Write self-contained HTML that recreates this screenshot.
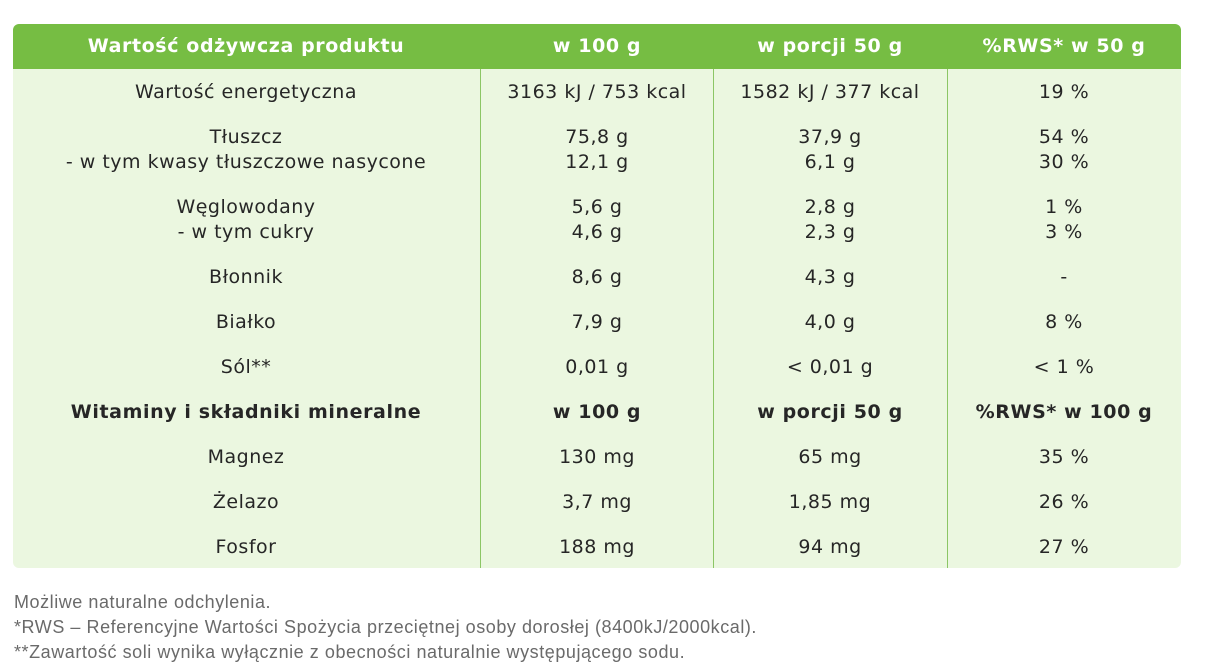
<!DOCTYPE html>
<html><head><meta charset="utf-8"><style>
body{margin:0;width:1206px;height:672px;background:#fff;position:relative;overflow:hidden;font-family:"DejaVu Sans",Verdana,sans-serif;}
.hdr{position:absolute;left:13px;top:24px;width:1168px;height:45px;background:#76bd43;border-radius:6px 6px 0 0;}
.body{position:absolute;left:13px;top:69px;width:1168px;height:499px;background:#ebf7e0;border-radius:0 0 6px 6px;}
.vl{position:absolute;top:69px;height:499px;width:1px;background:#8cc665;}
.t{position:absolute;transform:translateX(-50%);white-space:nowrap;font-size:19px;letter-spacing:0.5px;color:#262626;line-height:25px;text-align:center;}
.h{color:#fff;font-weight:bold;letter-spacing:0.6px;}
.b{font-weight:bold;letter-spacing:0.6px;}
.foot{position:absolute;left:14px;font-family:"Liberation Sans",sans-serif;font-size:18px;letter-spacing:0.55px;color:#6a6a6a;}
</style></head><body>
<div class="hdr"></div><div class="body"></div>
<div class="vl" style="left:480px"></div><div class="vl" style="left:713px"></div><div class="vl" style="left:947px"></div>
<div class="t h" style="left:246px;top:34px">Wartość odżywcza produktu</div>
<div class="t h" style="left:597px;top:34px">w 100 g</div>
<div class="t h" style="left:830px;top:34px">w porcji 50 g</div>
<div class="t h" style="left:1064px;top:34px">%RWS* w 50 g</div>

<div class="t" style="left:246px;top:80px">Wartość energetyczna</div>
<div class="t" style="left:597px;top:80px">3163 kJ / 753 kcal</div>
<div class="t" style="left:830px;top:80px">1582 kJ / 377 kcal</div>
<div class="t" style="left:1064px;top:80px">19 %</div>

<div class="t" style="left:246px;top:125px">Tłuszcz<br>- w tym kwasy tłuszczowe nasycone</div>
<div class="t" style="left:597px;top:125px">75,8 g<br>12,1 g</div>
<div class="t" style="left:830px;top:125px">37,9 g<br>6,1 g</div>
<div class="t" style="left:1064px;top:125px">54 %<br>30 %</div>

<div class="t" style="left:246px;top:195px">Węglowodany<br>- w tym cukry</div>
<div class="t" style="left:597px;top:195px">5,6 g<br>4,6 g</div>
<div class="t" style="left:830px;top:195px">2,8 g<br>2,3 g</div>
<div class="t" style="left:1064px;top:195px">1 %<br>3 %</div>

<div class="t" style="left:246px;top:265px">Błonnik</div>
<div class="t" style="left:597px;top:265px">8,6 g</div>
<div class="t" style="left:830px;top:265px">4,3 g</div>
<div class="t" style="left:1064px;top:265px">-</div>

<div class="t" style="left:246px;top:310px">Białko</div>
<div class="t" style="left:597px;top:310px">7,9 g</div>
<div class="t" style="left:830px;top:310px">4,0 g</div>
<div class="t" style="left:1064px;top:310px">8 %</div>

<div class="t" style="left:246px;top:355px">Sól**</div>
<div class="t" style="left:597px;top:355px">0,01 g</div>
<div class="t" style="left:830px;top:355px">&lt; 0,01 g</div>
<div class="t" style="left:1064px;top:355px">&lt; 1 %</div>

<div class="t b" style="left:246px;top:400px">Witaminy i składniki mineralne</div>
<div class="t b" style="left:597px;top:400px">w 100 g</div>
<div class="t b" style="left:830px;top:400px">w porcji 50 g</div>
<div class="t b" style="left:1064px;top:400px">%RWS* w 100 g</div>

<div class="t" style="left:246px;top:445px">Magnez</div>
<div class="t" style="left:597px;top:445px">130 mg</div>
<div class="t" style="left:830px;top:445px">65 mg</div>
<div class="t" style="left:1064px;top:445px">35 %</div>

<div class="t" style="left:246px;top:490px">Żelazo</div>
<div class="t" style="left:597px;top:490px">3,7 mg</div>
<div class="t" style="left:830px;top:490px">1,85 mg</div>
<div class="t" style="left:1064px;top:490px">26 %</div>

<div class="t" style="left:246px;top:535px">Fosfor</div>
<div class="t" style="left:597px;top:535px">188 mg</div>
<div class="t" style="left:830px;top:535px">94 mg</div>
<div class="t" style="left:1064px;top:535px">27 %</div>

<div class="foot" style="top:592px">Możliwe naturalne odchylenia.</div>
<div class="foot" style="top:617px">*RWS – Referencyjne Wartości Spożycia przeciętnej osoby dorosłej (8400kJ/2000kcal).</div>
<div class="foot" style="top:642px">**Zawartość soli wynika wyłącznie z obecności naturalnie występującego sodu.</div>
</body></html>
